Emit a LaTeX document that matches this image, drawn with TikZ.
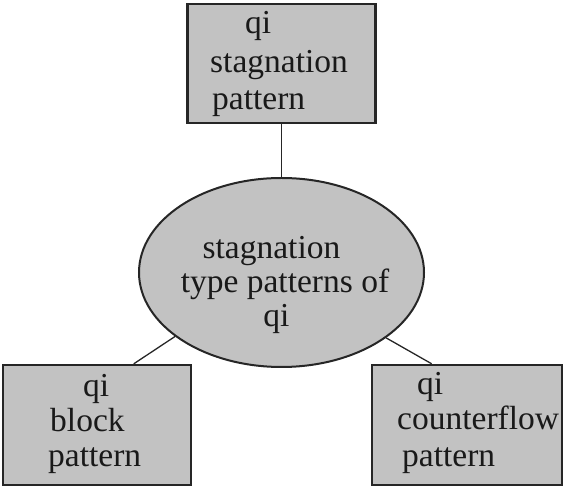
\documentclass[tikz,border=0pt]{standalone}
\usepackage{fontspec}
\setmainfont{Liberation Serif}
\usetikzlibrary{shapes.geometric}
\tikzset{
  boxshape/.style={draw=black!85, line width=2.4pt, fill=black!24, rectangle, inner sep=0pt},
  ellshape/.style={draw=black!85, line width=2pt, fill=black!24, ellipse, inner sep=0pt},
  link/.style={draw=black!85, line width=1.3pt},
  lbl/.style={inner sep=0pt, font=\fontsize{33.5}{38}\selectfont, text=black!90},
  lblw/.style={lbl, anchor=base west},
  lblc/.style={lbl, anchor=base}
}
\begin{document}
\begin{tikzpicture}[x=1pt,y=1pt]
\useasboundingbox (0,0) rectangle (566,490);
% shapes
\node[boxshape, minimum width=188pt, minimum height=119pt] (top) at (281.5,426.5) {};
\node[ellshape, minimum width=285pt, minimum height=189pt] (ell) at (281.5,217.5) {};
\node[boxshape, minimum width=188pt, minimum height=120pt] (bl) at (97,65) {};
\node[boxshape, minimum width=190pt, minimum height=120pt] (br) at (467,65) {};
% connectors
\draw[link] (top.south) -- (ell.north);
\draw[link] (ell.211) -- (bl.59.7);
\draw[link] (ell.328.6) -- (br.120.3);
% top box text
\node[lblw] (t1) at (245,456) {qi};
\node[lblw] (t2) at (210,417) {stagnation};
\node[lblw] (t3) at (212,380) {pattern};
% ellipse text
\node[lblc] (e1) at (271.5,231) {stagnation};
\node[lblc] (e2) at (285,197) {type patterns of};
\node[lblc] (e3) at (276.5,163) {qi};
% bottom left text
\node[lblw] (l1) at (83,93) {qi};
\node[lblw] (l2) at (50,58) {block};
\node[lblw] (l3) at (48,23) {pattern};
% bottom right text
\node[lblw] (r1) at (417,95) {qi};
\node[lblw] (r2) at (397,60) {counterflow};
\node[lblw] (r3) at (402,23) {pattern};
\end{tikzpicture}
\end{document}
